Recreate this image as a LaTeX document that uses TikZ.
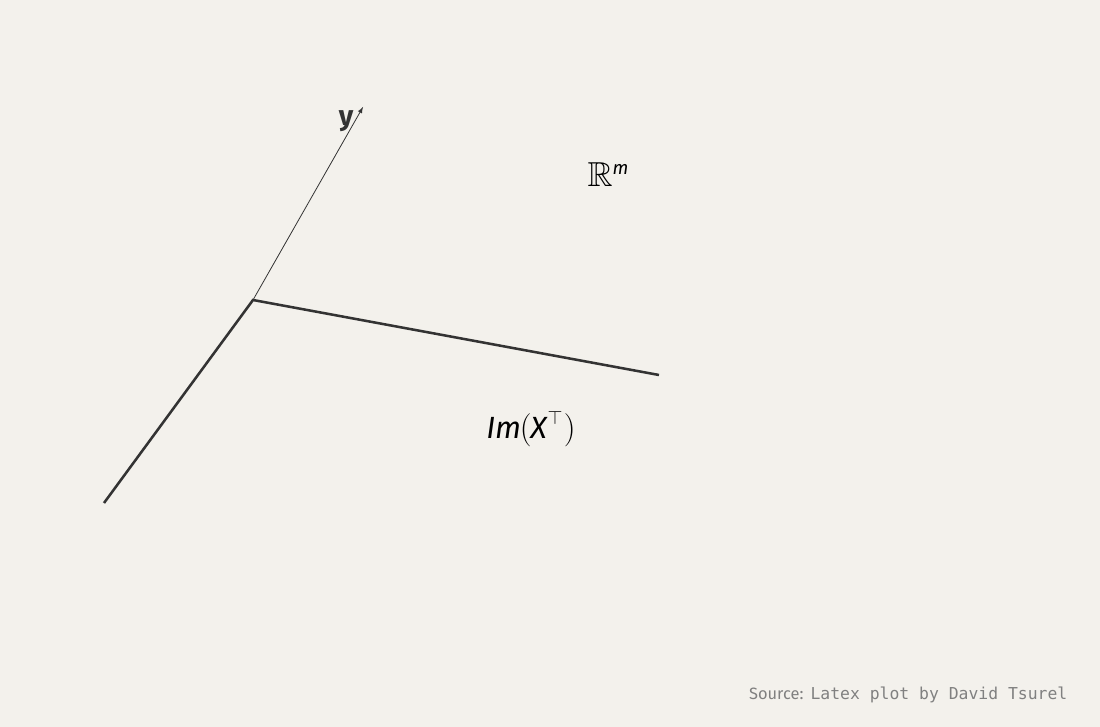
\documentclass[tikz,border=0pt]{standalone}
\usepackage{amssymb}
\usepackage{fontspec}
\newfontfamily\labelfont{Fira Sans}
\newfontfamily\srcsans{Fira Sans}
\newfontfamily\srcmono{DejaVu Sans Mono}
\usetikzlibrary{arrows}
\definecolor{paper}{RGB}{243,241,236}
\definecolor{ink}{RGB}{51,51,51}
\definecolor{srcgray}{RGB}{128,128,128}
\tikzset{plane/.style={ink,line width=1.9pt},
  vec/.style={ink,line width=0.6pt,->,>=latex}}

\begin{document}
\begin{tikzpicture}[x=0.75pt,y=-0.75pt]
\fill[paper] (0,0) rectangle (1100,727);%le fond
\useasboundingbox (0,0) rectangle (1100,727);

\coordinate (O) at (253,300);
\coordinate (A) at (659,375);
\coordinate (B) at (104,503);
\coordinate (Y) at (363,107);

\draw[plane] (B) -- (O) -- (A);
\draw[vec] (O) -- (Y);

\node[ink,font=\labelfont\bfseries\fontsize{21}{21}\selectfont] (ylab) at (346,121) {y};
\node[black,font=\fontsize{26}{26}\selectfont,inner sep=0pt] (Rm) at (608,175) {$\mathbb{R}$\raisebox{9pt}{\labelfont\itshape\fontsize{14}{14}\selectfont m}};
\node[black,font=\labelfont\fontsize{23}{23}\selectfont] (im) at (531,429) {\textit{Im}\kern-1pt$\bigg($\kern-1pt\textit{X}\raisebox{10pt}{\fontsize{15}{15}\selectfont$\top$}\kern1pt$\bigg)$};

\node[srcgray,anchor=east,font=\fontsize{12.3}{13}\selectfont] (src) at (1072,695) {{\srcsans Source:} {\srcmono Latex plot by David Tsurel}};
\end{tikzpicture}
\end{document}
